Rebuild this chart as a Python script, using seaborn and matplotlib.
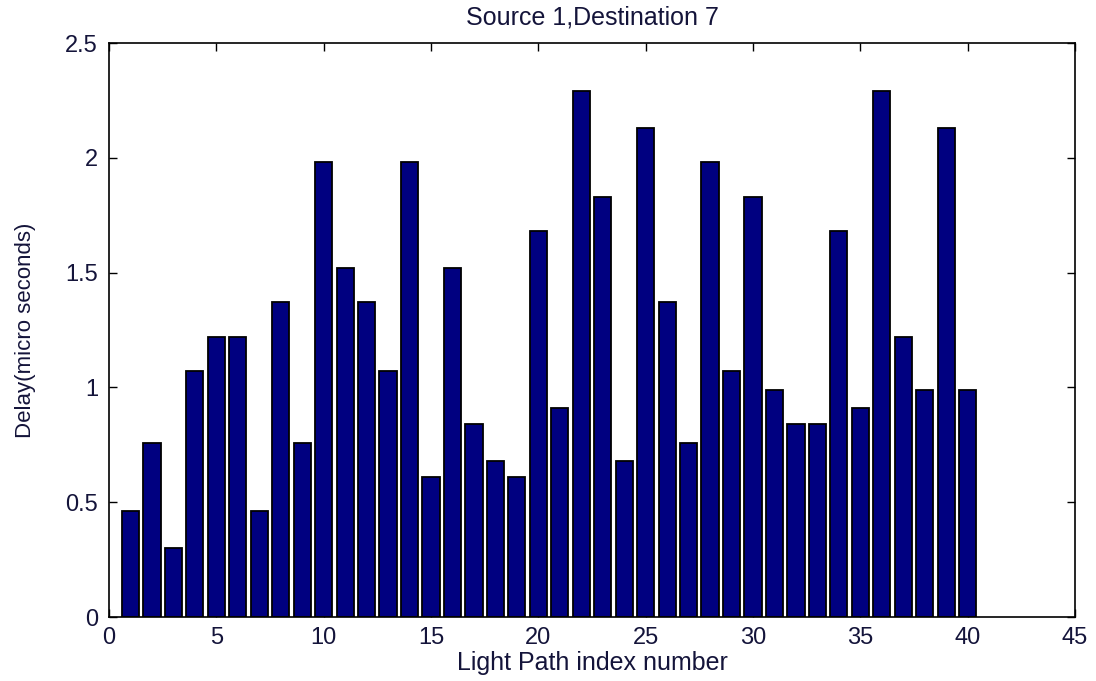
import numpy as np
import pandas as pd
import matplotlib
matplotlib.use("Agg")
import matplotlib.pyplot as plt
import seaborn as sns

path_index = list(range(1, 41))
delay = [0.46, 0.76, 0.30, 1.07, 1.22, 1.22, 0.46, 1.37, 0.76, 1.98,
         1.52, 1.37, 1.07, 1.98, 0.61, 1.52, 0.84, 0.68, 0.61, 1.68,
         0.91, 2.29, 1.83, 0.68, 2.13, 1.37, 0.76, 1.98, 1.07, 1.83,
         0.99, 0.84, 0.84, 1.68, 0.91, 2.29, 1.22, 0.99, 2.13, 0.99]
x_ticks = [0, 5, 10, 15, 20, 25, 30, 35, 40, 45]
y_ticks = [0, 0.5, 1, 1.5, 2, 2.5]
y_tick_labels = ["0", "0.5", "1", "1.5", "2", "2.5"]

sns.set_style("white")
plt.rcParams['font.family'] = ['Liberation Sans', 'DejaVu Sans']
txt_color = "#14143a"

df = pd.DataFrame({"idx": path_index, "delay": delay})

fig = plt.figure(figsize=(10.96, 6.81), dpi=100)
ax = fig.add_axes([109/1096, 1 - 617/681, (1075-109)/1096, (617-43)/681])
sns.barplot(data=df, x="idx", y="delay", native_scale=True, width=0.8,
            color="#000080", saturation=1, edgecolor="black", linewidth=1.3, ax=ax)

ax.set_xlim(0, 45)
ax.set_ylim(0, 2.5)
ax.set_xticks(x_ticks)
ax.set_xticklabels([str(t) for t in x_ticks])
ax.set_yticks(y_ticks)
ax.set_yticklabels(y_tick_labels)
ax.tick_params(direction="in", length=6, width=1, labelsize=17, top=True, right=True,
               bottom=True, left=True, colors="black", labelcolor=txt_color)
ax.tick_params(axis="x", pad=7)
ax.tick_params(axis="y", pad=8)
for s in ax.spines.values():
    s.set_visible(True)
    s.set_color("black")
    s.set_linewidth(1.2)
ax.set_xlabel("Light Path index number", fontsize=18, color=txt_color, va="center")
ax.xaxis.set_label_coords(0.5, (617 - 663) / 574)
ax.set_ylabel("Delay(micro seconds)", fontsize=16, color=txt_color, va="center")
ax.yaxis.set_label_coords((26 - 109) / 966, 0.5)
ax.set_title("Source 1,Destination 7", fontsize=18, color=txt_color,
             y=(617 - 18) / 574, va="center", pad=0)

fig.savefig("out.png", dpi=100)
